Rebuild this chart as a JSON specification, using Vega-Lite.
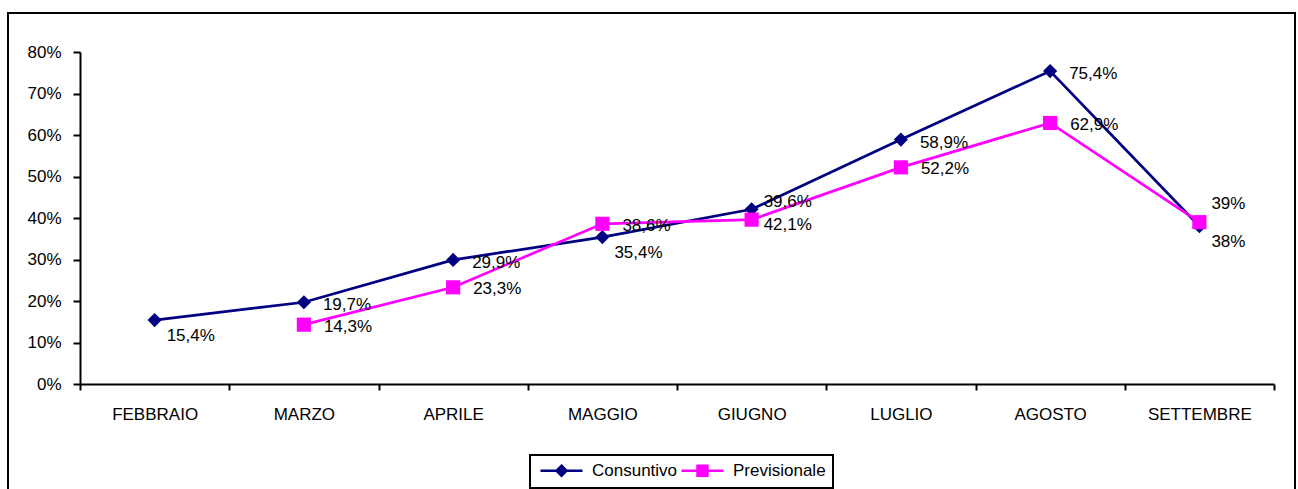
{
  "$schema": "https://vega.github.io/schema/vega-lite/v6.json",
  "width": 1287,
  "height": 480,
  "autosize": {"type": "none"},
  "padding": {"left": 8, "top": 13, "right": 3, "bottom": 0},
  "background": "white",
  "config": {
    "locale": {"number": {"decimal": ",", "thousands": ".", "grouping": [3], "currency": ["€", ""]}},
    "view": {"stroke": "black", "strokeWidth": 2},
    "font": "Liberation Sans",
    "axis": {
      "domainColor": "black", "domainWidth": 2, "tickColor": "black", "tickWidth": 2,
      "labelColor": "black", "labelFontSize": 17, "labelFont": "Liberation Sans", "title": null, "grid": false
    }
  },
  "data": {
    "values": [
      {"mese": "FEBBRAIO", "serie": "Consuntivo", "valore": 0.154},
      {"mese": "MARZO", "serie": "Consuntivo", "valore": 0.197},
      {"mese": "APRILE", "serie": "Consuntivo", "valore": 0.299},
      {"mese": "MAGGIO", "serie": "Consuntivo", "valore": 0.354},
      {"mese": "GIUGNO", "serie": "Consuntivo", "valore": 0.421},
      {"mese": "LUGLIO", "serie": "Consuntivo", "valore": 0.589},
      {"mese": "AGOSTO", "serie": "Consuntivo", "valore": 0.754},
      {"mese": "SETTEMBRE", "serie": "Consuntivo", "valore": 0.38},
      {"mese": "MARZO", "serie": "Previsionale", "valore": 0.143},
      {"mese": "APRILE", "serie": "Previsionale", "valore": 0.233},
      {"mese": "MAGGIO", "serie": "Previsionale", "valore": 0.386},
      {"mese": "GIUGNO", "serie": "Previsionale", "valore": 0.396},
      {"mese": "LUGLIO", "serie": "Previsionale", "valore": 0.522},
      {"mese": "AGOSTO", "serie": "Previsionale", "valore": 0.629},
      {"mese": "SETTEMBRE", "serie": "Previsionale", "valore": 0.39}
    ]
  },
  "encoding": {
    "x": {
      "field": "mese", "type": "nominal", "bandPosition": 0.5,
      "sort": ["FEBBRAIO", "MARZO", "APRILE", "MAGGIO", "GIUGNO", "LUGLIO", "AGOSTO", "SETTEMBRE"],
      "scale": {"type": "band", "range": [72, 1266], "paddingInner": 0, "paddingOuter": 0},
      "axis": {"labelAngle": 0, "tickBand": "extent", "offset": -109, "tickSize": 6, "labelPadding": 16}
    },
    "y": {
      "field": "valore", "type": "quantitative",
      "scale": {"domain": [0, 0.8], "range": [371, 39], "nice": false},
      "axis": {"format": ".0%", "values": [0, 0.1, 0.2, 0.3, 0.4, 0.5, 0.6, 0.7, 0.8], "offset": -72, "tickSize": 7, "labelPadding": 12}
    }
  },
  "layer": [
    {
      "mark": {"type": "line", "strokeWidth": 2.7},
      "encoding": {
        "color": {
          "field": "serie", "type": "nominal",
          "scale": {"domain": ["Consuntivo", "Previsionale"], "range": ["#000080", "#ff00ff"]},
          "legend": {
            "orient": "none", "legendX": 522, "legendY": 442, "title": null, "direction": "horizontal",
            "strokeColor": "black", "padding": 7, "labelFontSize": 17, "labelColor": "black",
            "symbolSize": 100, "symbolOffset": 16, "labelOffset": 22, "columnPadding": -9,
            "encode": {
              "symbols": {"update": {
                "shape": {"signal": "datum.value === 'Consuntivo' ? 'M-4.2,0H4.2M0,-1L1,0L0,1L-1,0Z' : 'M-4.2,0H4.2M-1,-1H1V1H-1Z'"},
                "fill": {"signal": "datum.value === 'Consuntivo' ? '#000080' : '#ff00ff'"},
                "stroke": {"signal": "datum.value === 'Consuntivo' ? '#000080' : '#ff00ff'"},
                "strokeWidth": {"value": 2.5},
                "opacity": {"value": 1}
              }},
              "legend": {"update": {"strokeWidth": {"value": 2}}}
            }
          }
        }
      }
    },
    {
      "transform": [{"filter": {"field": "serie", "equal": "Consuntivo"}}],
      "mark": {"type": "point", "shape": "diamond", "filled": true, "opacity": 1, "size": 200, "color": "#000080"},
      "encoding": {}
    },
    {
      "transform": [{"filter": {"field": "serie", "equal": "Previsionale"}}],
      "mark": {"type": "point", "shape": "square", "filled": true, "opacity": 1, "size": 200, "color": "#ff00ff"},
      "encoding": {}
    },
    {
      "transform": [{"filter": {"and": [{"field": "serie", "equal": "Consuntivo"}, {"field": "mese", "oneOf": ["MARZO", "APRILE", "LUGLIO", "AGOSTO"]}]}}],
      "mark": {"type": "text", "align": "left", "baseline": "middle", "dx": 19, "dy": 3, "fontSize": 17, "color": "black"},
      "encoding": {"text": {"field": "valore", "type": "quantitative", "format": ".1~%"}}
    },
    {
      "transform": [{"filter": {"and": [{"field": "serie", "equal": "Consuntivo"}, {"field": "mese", "oneOf": ["FEBBRAIO", "MAGGIO", "GIUGNO", "SETTEMBRE"]}]}}],
      "mark": {"type": "text", "align": "left", "baseline": "middle", "dx": 12, "dy": 16, "fontSize": 17, "color": "black"},
      "encoding": {"text": {"field": "valore", "type": "quantitative", "format": ".1~%"}}
    },
    {
      "transform": [{"filter": {"and": [{"field": "serie", "equal": "Previsionale"}, {"field": "mese", "oneOf": ["MARZO", "APRILE", "MAGGIO", "LUGLIO", "AGOSTO"]}]}}],
      "mark": {"type": "text", "align": "left", "baseline": "middle", "dx": 20, "dy": 2, "fontSize": 17, "color": "black"},
      "encoding": {"text": {"field": "valore", "type": "quantitative", "format": ".1~%"}}
    },
    {
      "transform": [{"filter": {"and": [{"field": "serie", "equal": "Previsionale"}, {"field": "mese", "oneOf": ["GIUGNO", "SETTEMBRE"]}]}}],
      "mark": {"type": "text", "align": "left", "baseline": "middle", "dx": 12, "dy": -18, "fontSize": 17, "color": "black"},
      "encoding": {"text": {"field": "valore", "type": "quantitative", "format": ".1~%"}}
    }
  ]
}
